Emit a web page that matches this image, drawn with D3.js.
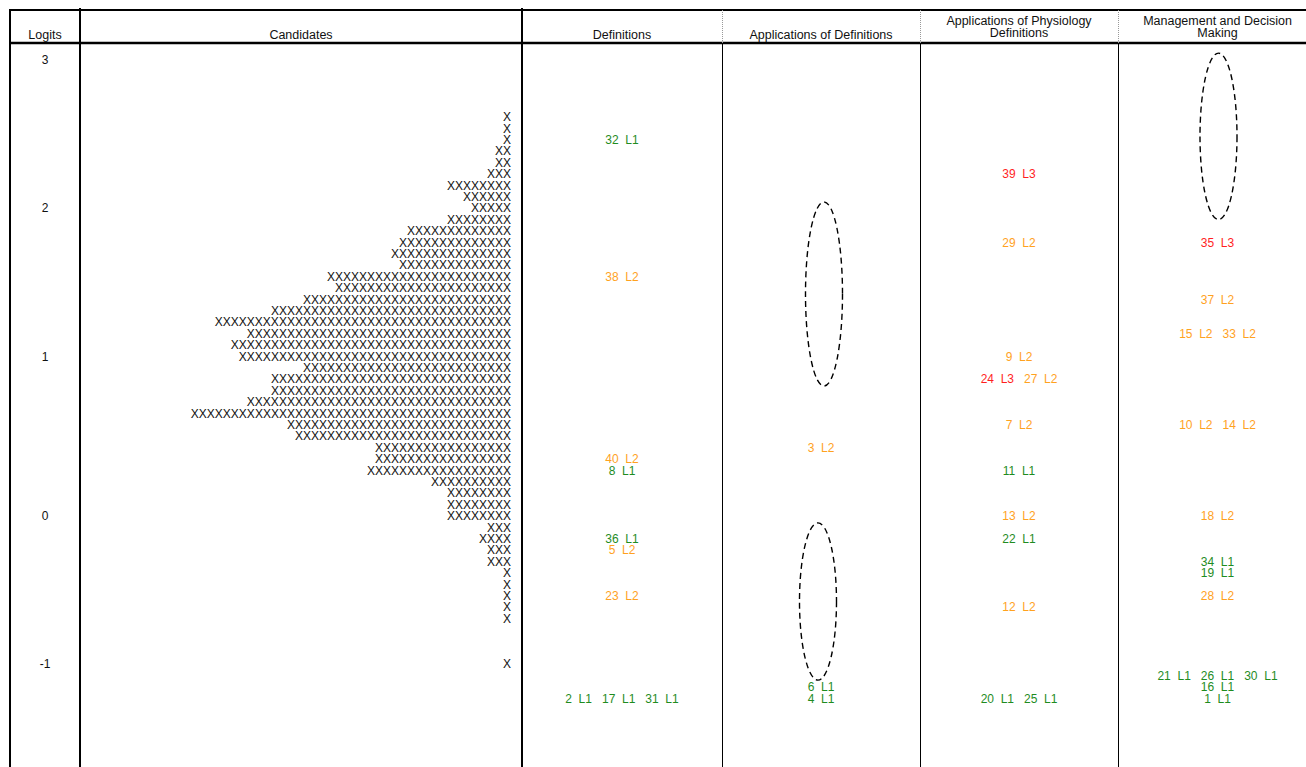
<!DOCTYPE html>
<html>
<head>
<meta charset="utf-8">
<script src="https://cdn.jsdelivr.net/npm/d3@7"></script>
<style>
  body { margin: 0; background: #fff; }
  svg text { font-family: "Liberation Sans", Arial, Helvetica, sans-serif; }
</style>
</head>
<body>
<svg id="map" width="1306" height="767"></svg>
<script>
// ---- Data -------------------------------------------------------------
// Logit ticks and the text line each one sits on
const tickLabels = ["3", "2", "1", "0", "-1"];
const tickLines  = [0, 13, 26, 40, 53];

// Candidate distribution: text line and number of candidates (one X each)
const candidateLines  = [5, 6, 7, 8, 9, 10, 11, 12, 13, 14, 15, 16, 17, 18, 19, 20, 21, 22, 23, 24,
                         25, 26, 27, 28, 29, 30, 31, 32, 33, 34, 35, 36, 37, 38, 39, 40, 41, 42, 43, 44,
                         45, 46, 47, 48, 49, 53];
const candidateCounts = [1, 1, 1, 2, 2, 3, 8, 6, 5, 8, 13, 14, 15, 14, 23, 22, 26, 30, 37, 33,
                         35, 34, 26, 30, 30, 33, 40, 28, 27, 17, 17, 18, 10, 8, 8, 8, 3, 4, 3, 3,
                         1, 1, 1, 1, 1, 1];

// Item columns (content areas)
const columnTitles = [
  ["Definitions"],
  ["Applications of Definitions"],
  ["Applications of Physiology", "Definitions"],
  ["Management and Decision", "Making"]
];

// Items: number, level, column index and text line
const itemNumbers = [32, 38, 40, 8, 36, 5, 23, 2, 17, 31,
                     3, 6, 4,
                     39, 29, 9, 24, 27, 7, 11, 13, 22, 12, 20, 25,
                     35, 37, 15, 33, 10, 14, 18, 34, 19, 28, 21, 26, 30, 16, 1];
const itemLevels  = ["L1", "L2", "L2", "L1", "L1", "L2", "L2", "L1", "L1", "L1",
                     "L2", "L1", "L1",
                     "L3", "L2", "L2", "L3", "L2", "L2", "L1", "L2", "L1", "L2", "L1", "L1",
                     "L3", "L2", "L2", "L2", "L2", "L2", "L2", "L1", "L1", "L2", "L1", "L1", "L1", "L1", "L1"];
const itemColumns = [0, 0, 0, 0, 0, 0, 0, 0, 0, 0,
                     1, 1, 1,
                     2, 2, 2, 2, 2, 2, 2, 2, 2, 2, 2, 2,
                     3, 3, 3, 3, 3, 3, 3, 3, 3, 3, 3, 3, 3, 3, 3];
const itemLines   = [7, 19, 35, 36, 42, 43, 47, 56, 56, 56,
                     34, 55, 56,
                     10, 16, 26, 28, 28, 32, 36, 40, 42, 48, 56, 56,
                     16, 21, 24, 24, 32, 32, 40, 44, 45, 47, 54, 54, 54, 55, 56];

// Gaps in the item hierarchy marked with dashed ellipses (column, top line, bottom line)
const gapColumns = [1, 1, 3];
const gapTops    = [12.45, 40.6, -0.6];
const gapBottoms = [28.6, 54.4, 14.0];

// ---- Layout -----------------------------------------------------------
const W = 1306, H = 767;
const headerTop = 10, headerBottom = 43;
const edges = [10, 80, 522, 722, 920, 1118, 1317];   // column boundaries
const levelColor = d3.scaleOrdinal()
  .domain(["L1", "L2", "L3"])
  .range(["#1f8c1f", "#ffa21f", "#ff1f1f"]);

const svg = d3.select("#map");

// text line -> vertical position
const y = d3.scaleLinear().domain([0, 56]).range([60, 60 + 56 * 11.4]);

// item columns -> horizontal centres
const itemX = d3.scaleOrdinal()
  .domain([0, 1, 2, 3])
  .range([0, 1, 2, 3].map(i => (edges[i + 2] + edges[i + 3]) / 2));

// ---- Frame ------------------------------------------------------------
svg.append("line")
  .attr("x1", edges[0] - 1).attr("x2", W).attr("y1", headerTop).attr("y2", headerTop)
  .attr("stroke", "#000").attr("stroke-width", 2);
svg.append("line")
  .attr("x1", edges[0] - 1).attr("x2", W).attr("y1", headerBottom).attr("y2", headerBottom)
  .attr("stroke", "#000").attr("stroke-width", 2.4);

// thick separators: left border, logits / candidates
[edges[0], edges[1], edges[2]].forEach((x, i) => {
  svg.append("line")
    .attr("x1", x).attr("x2", x).attr("y1", i === 0 ? headerTop : headerTop - 2).attr("y2", H)
    .attr("stroke", "#000").attr("stroke-width", 2);
});
// thin separators between item columns: dotted in the header, solid below
[edges[3], edges[4], edges[5]].forEach(x => {
  svg.append("line")
    .attr("x1", x + 0.5).attr("x2", x + 0.5).attr("y1", headerTop).attr("y2", headerBottom)
    .attr("stroke", "#999").attr("stroke-width", 1).attr("stroke-dasharray", "1,1");
  svg.append("line")
    .attr("x1", x + 0.5).attr("x2", x + 0.5).attr("y1", headerBottom).attr("y2", H)
    .attr("stroke", "#000").attr("stroke-width", 1);
});

// ---- Header -----------------------------------------------------------
const headerFont = 12.5;
function headerText(lines, cx) {
  const t = svg.append("text")
    .attr("text-anchor", "middle")
    .attr("font-size", headerFont)
    .attr("fill", "#111");
  const baseY = lines.length === 1 ? headerBottom - 4 : headerBottom - 6 - (lines.length - 1) * 12.5;
  lines.forEach((s, i) => {
    t.append("tspan").attr("x", cx).attr("y", baseY + i * 12.5).text(s);
  });
}
headerText(["Logits"], (edges[0] + edges[1]) / 2);
headerText(["Candidates"], (edges[1] + edges[2]) / 2);
columnTitles.forEach((lines, i) => headerText(lines, itemX(i)));

// ---- Logit axis ---------------------------------------------------------
svg.append("g").selectAll("text")
  .data(tickLabels)
  .join("text")
  .attr("x", (edges[0] + edges[1]) / 2)
  .attr("y", (d, i) => y(tickLines[i]))
  .attr("dy", "0.35em")
  .attr("text-anchor", "middle")
  .attr("font-size", 12)
  .attr("fill", "#111")
  .text(d => d);

// ---- Candidates ---------------------------------------------------------
svg.append("g").selectAll("text")
  .data(candidateCounts)
  .join("text")
  .attr("x", edges[2] - 11)
  .attr("y", (d, i) => y(candidateLines[i]))
  .attr("dy", "0.35em")
  .attr("text-anchor", "end")
  .attr("font-size", 12)
  .attr("fill", "#111")
  .text(d => "X".repeat(d));

// ---- Items ------------------------------------------------------------
const items = itemNumbers.map((n, i) => ({
  number: n, level: itemLevels[i], column: itemColumns[i], line: itemLines[i]
}));
const rows = d3.groups(items, d => d.column, d => d.line)
  .flatMap(([col, byLine]) => byLine.map(([line, list]) => ({ col, line, list })));

const rowText = svg.append("g").selectAll("text")
  .data(rows)
  .join("text")
  .attr("x", d => itemX(d.col))
  .attr("y", d => y(d.line))
  .attr("dy", "0.35em")
  .attr("text-anchor", "middle")
  .attr("font-size", 12)
  .attr("xml:space", "preserve")
  .style("white-space", "pre");

rowText.each(function (row) {
  const t = d3.select(this);
  row.list.forEach((it, k) => {
    t.append("tspan")
      .attr("fill", levelColor(it.level))
      .text((k > 0 ? "   " : "") + it.number + "  " + it.level);
  });
});

// ---- Gap markers --------------------------------------------------------
svg.append("g").selectAll("ellipse")
  .data(gapColumns)
  .join("ellipse")
  .attr("cx", (d, i) => itemX(d) + [3, -3, 1][i])
  .attr("cy", (d, i) => (y(gapTops[i]) + y(gapBottoms[i])) / 2)
  .attr("rx", 18.5)
  .attr("ry", (d, i) => (y(gapBottoms[i]) - y(gapTops[i])) / 2)
  .attr("fill", "none")
  .attr("stroke", "#000")
  .attr("stroke-width", 1.4)
  .attr("stroke-dasharray", "6,4");
</script>
</body>
</html>
